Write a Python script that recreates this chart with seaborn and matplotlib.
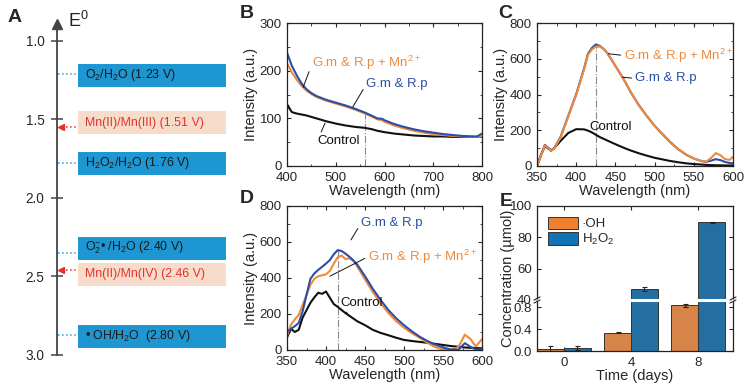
import numpy as np
import pandas as pd
import matplotlib
matplotlib.use("Agg")
import matplotlib.pyplot as plt
import seaborn as sns
from matplotlib.patches import Rectangle, Patch
from matplotlib.lines import Line2D
from matplotlib.ticker import AutoMinorLocator

# ======================================
# DATA
# ======================================
# A: redox potentials (V)
couples = ["O$_2$/H$_2$O", "Mn(II)/Mn(III)", "H$_2$O$_2$/H$_2$O",
           "O$_2^{-}$• /H$_2$O", "Mn(II)/Mn(IV)", "• OH/H$_2$O "]
potentials = [1.23, 1.51, 1.76, 2.40, 2.46, 2.80]
is_mn = [False, True, False, False, True, False]

# B: fluorescence 400-800 nm
b_wl = [400, 402, 405, 410, 420, 430, 440, 450, 460, 480, 500, 520, 540, 560, 575, 585, 595,
        600, 620, 640, 660, 680, 700, 720, 740, 760, 780, 790, 800]
b_gmrp = [238, 232, 224, 210, 190, 173, 161, 153, 147, 139, 133, 127, 120, 112, 105, 100, 99,
          96, 88, 82, 77, 73, 70, 67, 65, 63, 62, 62, 68]
b_mn = [215, 212, 206, 196, 181, 168, 158, 151, 145, 137, 131, 125, 118, 110, 103, 98, 96,
        93, 85, 79, 74, 70, 67, 65, 63, 62, 61, 61, 62]
b_ctrl = [120, 127, 121, 113, 110, 108, 106, 103, 100, 94, 89, 85, 82, 80, 77, 74, 72,
          71, 68, 66, 64, 63, 62, 62, 61, 61, 61, 61, 61]

# C: 350-600 nm
c_wl = [350, 355, 360, 365, 368, 372, 380, 390, 400, 410, 415, 420, 425, 430, 435, 440, 450,
        460, 470, 480, 490, 500, 510, 520, 530, 540, 550, 560, 566, 572, 578, 584, 590, 596, 600]
c_gmrp = [0, 60, 118, 100, 88, 100, 162, 282, 402, 545, 628, 660, 680, 672, 655, 630, 560,
          490, 410, 340, 280, 225, 178, 133, 94, 64, 42, 27, 23, 30, 38, 33, 22, 17, 15]
c_mn = [0, 58, 115, 98, 86, 98, 158, 278, 398, 540, 622, 652, 668, 668, 655, 630, 560,
        490, 410, 340, 280, 225, 180, 135, 95, 65, 42, 28, 24, 45, 72, 60, 38, 35, 52]
c_ctrl = [0, 60, 110, 96, 86, 100, 140, 185, 206, 205, 198, 188, 175, 162, 152, 142, 122,
          103, 86, 71, 58, 46, 37, 28, 21, 15, 11, 8, 6, 5, 4, 4, 3, 3, 3]

# D: 350-600 nm
d_wl = [350, 355, 360, 365, 370, 380, 385, 390, 395, 400, 405, 410, 415, 420, 425, 430, 435,
        440, 450, 460, 470, 480, 490, 500, 510, 520, 530, 540, 550, 560, 570, 578, 585, 592, 600]
d_gmrp = [100, 118, 132, 150, 215, 395, 425, 445, 462, 480, 500, 532, 555, 550, 535, 518, 498,
          475, 410, 340, 278, 222, 176, 138, 104, 74, 50, 30, 14, 3, 2, 38, 18, 2, 4]
d_mn = [80, 140, 170, 195, 250, 362, 395, 410, 415, 420, 440, 480, 515, 525, 505, 510, 495,
        465, 392, 322, 260, 205, 160, 124, 94, 68, 40, 16, 2, 0, 18, 85, 62, 20, 60]
d_ctrl = [70, 118, 100, 112, 180, 262, 292, 318, 312, 325, 290, 255, 240, 222, 205, 190, 175,
          160, 138, 112, 95, 82, 68, 56, 50, 45, 40, 34, 28, 22, 18, 14, 12, 11, 9]

# peak wavelengths marked with dash-dot lines
b_mark, c_mark, d_mark = 560, 425, 415

# E: ROS concentration (umol)
days = ["0", "4", "8"]
oh_conc = [0.04, 0.33, 0.83]
oh_err = [0.05, 0.01, 0.03]
h2o2_conc = [0.05, 47.0, 89.5]
h2o2_err = [0.04, 1.0, 0.6]

# ======================================
# STYLE
# ======================================
W, H = 752, 388
ORANGE = "#EE8A3C"
NAVY = "#2B4EA6"
BLACK = "#111111"
BAR_OR = "#EF8030"
BAR_BL = "#0F73B6"
BOX_BL = "#1E96D2"
BOX_PK = "#F8DCCB"
MN_RED = "#E4322B"

sns.set_theme(style="ticks")
plt.rcParams["font.family"] = ["Liberation Sans", "DejaVu Sans"]
plt.rcParams["mathtext.fontset"] = "custom"
plt.rcParams["mathtext.rm"] = "Liberation Sans"
plt.rcParams["mathtext.it"] = "Liberation Sans:italic"
plt.rcParams["mathtext.bf"] = "Liberation Sans:bold"
plt.rcParams["axes.linewidth"] = 0.9
plt.rcParams["axes.edgecolor"] = "#222222"


def rect(l, t, r, b):
    return [l / W, 1 - b / H, (r - l) / W, (b - t) / H]


def box_ticks(ax, minor=True):
    if minor:
        ax.xaxis.set_minor_locator(AutoMinorLocator(2))
        ax.yaxis.set_minor_locator(AutoMinorLocator(2))
    ax.tick_params(which="major", direction="in", length=3, width=0.8, labelsize=9.5,
                   top=True, right=True)
    ax.tick_params(which="minor", direction="in", length=1.8, width=0.6, top=True, right=True)
    ax.tick_params(axis="x", which="major", pad=4)
    ax.tick_params(axis="y", which="major", pad=3.8)


fig = plt.figure(figsize=(W / 100, H / 100), dpi=100)
fig.patch.set_facecolor("white")

# ======================================
# A. POTENTIAL LADDER
# ======================================
axA = fig.add_axes(rect(57, 22, 230, 355))
axA.set_xlim(0, 1)
axA.set_ylim(3.0, 0.88)
for s in ["top", "right", "bottom"]:
    axA.spines[s].set_visible(False)
axA.spines["left"].set_linewidth(1.3)
axA.spines["left"].set_color("#444444")
axA.set_xticks([])
axA.set_yticks([1.0, 1.5, 2.0, 2.5, 3.0])
axA.set_yticklabels(["1.0", "1.5", "2.0", "2.5", "3.0"])
axA.tick_params(axis="y", direction="inout", length=9, width=1.1, color="#444444",
                labelsize=9.8, pad=4.5)
axA.plot([0], [0.89], marker="^", ms=7, color="#444444", clip_on=False)
axA.text(0.065, 0.872, "E$^0$", fontsize=13, va="center", ha="left", color="#222222")

box_shift = [-0.01, 0.01, 0.02, -0.08, 0.025, 0.08]
link_shift = [-0.02, 0.04, 0.02, -0.05, 0.0, 0.07]
box_h = 0.146
for name, e, mn, bs, ls in zip(couples, potentials, is_mn, box_shift, link_shift):
    yc = e + bs
    axA.add_patch(Rectangle((0.121, yc - box_h / 2), 0.856, box_h,
                            facecolor=BOX_PK if mn else BOX_BL, edgecolor="none"))
    axA.text(0.162, yc, f"{name} ({e:.2f} V)", va="center", ha="left", fontsize=8.9,
             color=MN_RED if mn else "#1a1a1a")
    yl = e + ls
    if mn:
        axA.plot([0.03, 0.121], [yl, yl], ls=":", lw=1.1, color=MN_RED)
        axA.plot([0.025], [yl], marker="<", ms=4, color=MN_RED)
    else:
        axA.plot([0.006, 0.121], [yl, yl], ls=":", lw=1.1, color="#3A9BD0")

fig.text(15 / W, 1 - 17 / H, "A", fontsize=14, fontweight="bold", ha="center", va="center")


# ======================================
# B, C, D. SPECTRA
# ======================================
def spectra_frame(wl, gmrp, mn, ctrl):
    parts = [pd.DataFrame({"wl": wl, "val": v, "sample": k})
             for k, v in [("Control", ctrl), ("G.m & R.p", gmrp), ("G.m & R.p + Mn", mn)]]
    return pd.concat(parts, ignore_index=True)


pal = {"Control": BLACK, "G.m & R.p": NAVY, "G.m & R.p + Mn": ORANGE}


def draw_spectra(ax, df, order, xlim, ylim, xticks, yticks, mark, mark_src):
    sns.lineplot(data=df, x="wl", y="val", hue="sample", hue_order=order, palette=pal,
                 ax=ax, legend=False, linewidth=1.5, estimator=None, sort=True)
    top = np.interp(mark, df.loc[df["sample"] == mark_src, "wl"],
                    df.loc[df["sample"] == mark_src, "val"])
    ax.plot([mark, mark], [0, top], ls="-.", lw=0.8, color="#8a8a8a", zorder=0)
    ax.set_xlim(*xlim)
    ax.set_ylim(*ylim)
    ax.set_xticks(xticks)
    ax.set_yticks(yticks)
    box_ticks(ax)
    ax.set_xlabel("Wavelength (nm)", fontsize=10.5, labelpad=0)
    ax.set_ylabel("Intensity (a.u.)", fontsize=10.5, labelpad=1)


def note(ax, text, color, xy, xytext):
    ax.annotate(text, xy=xy, xytext=xytext, fontsize=9.5, color=color,
                ha="left", va="center",
                arrowprops=dict(arrowstyle="-", color="#111111", lw=0.7,
                                shrinkA=0, shrinkB=0, relpos=(0, 0.5)))


MN_LABEL = "G.m & R.p + Mn$^{2+}$"

axB = fig.add_axes(rect(287, 23, 482, 166))
draw_spectra(axB, spectra_frame(b_wl, b_gmrp, b_mn, b_ctrl),
             ["Control", "G.m & R.p + Mn", "G.m & R.p"],
             (400, 800), (0, 300), [400, 500, 600, 700, 800], [0, 100, 200, 300],
             b_mark, "G.m & R.p")
note(axB, MN_LABEL, ORANGE, (433, 165), (452, 216))
note(axB, "G.m & R.p", NAVY, (535, 124), (563, 172))
note(axB, "Control", BLACK, (478, 90), (462, 52))

axC = fig.add_axes(rect(537, 23, 733, 166))
draw_spectra(axC, spectra_frame(c_wl, c_gmrp, c_mn, c_ctrl),
             ["Control", "G.m & R.p", "G.m & R.p + Mn"],
             (350, 600), (0, 800), [350, 400, 450, 500, 550, 600], [0, 200, 400, 600, 800],
             c_mark, "G.m & R.p")
note(axC, MN_LABEL, ORANGE, (441, 628), (461, 618))
note(axC, "G.m & R.p", NAVY, (459, 497), (475, 490))
note(axC, "Control", BLACK, (430, 165), (417, 218))

axD = fig.add_axes(rect(287, 206, 482, 350))
draw_spectra(axD, spectra_frame(d_wl, d_gmrp, d_mn, d_ctrl),
             ["Control", "G.m & R.p + Mn", "G.m & R.p"],
             (350, 600), (0, 800), [350, 400, 450, 500, 550, 600], [0, 200, 400, 600, 800],
             d_mark, "G.m & R.p")
note(axD, "G.m & R.p", NAVY, (432, 612), (445, 705))
note(axD, MN_LABEL, ORANGE, (405, 410), (454, 518))
note(axD, "Control", BLACK, (429, 190), (419, 262))

for lbl, x, y in [("B", 247, 13), ("C", 505, 13), ("D", 247, 199), ("E", 506, 201)]:
    fig.text(x / W, 1 - y / H, lbl, fontsize=14, fontweight="bold", ha="center", va="center")

# ======================================
# E. BROKEN-AXIS BARS
# ======================================
bars = pd.concat([
    pd.DataFrame({"day": days, "conc": oh_conc, "err": oh_err, "species": "OH"}),
    pd.DataFrame({"day": days, "conc": h2o2_conc, "err": h2o2_err, "species": "H2O2"}),
], ignore_index=True)

axU = fig.add_axes(rect(537, 206, 733, 300))
axL = fig.add_axes(rect(537, 300, 733, 351))
for ax in (axU, axL):
    sns.barplot(data=bars, x="day", y="conc", hue="species", hue_order=["OH", "H2O2"],
                palette=[BAR_OR, BAR_BL], ax=ax, legend=False, width=0.8,
                edgecolor="#333333", linewidth=0.7, errorbar=None)
    for k, sp in enumerate(["OH", "H2O2"]):
        sub = bars[bars["species"] == sp]
        xs = np.arange(len(days)) + (k - 0.5) * 0.4
        ax.errorbar(xs, sub["conc"], yerr=sub["err"], fmt="none", ecolor="#222222",
                    elinewidth=0.8, capsize=1.8, capthick=0.8)
    ax.set_xlim(-0.4, 2.52)
    box_ticks(ax, minor=False)
    ax.set_ylabel("")

axU.set_ylim(40, 100)
axU.set_yticks([40, 60, 80, 100])
axU.spines["bottom"].set_visible(False)
axU.tick_params(axis="x", bottom=False, labelbottom=False)
axU.set_xlabel("")

axL.set_ylim(0, 0.93)
axL.set_yticks([0.0, 0.4, 0.8])
axL.set_yticklabels(["0.0", "0.4", "0.8"])
axL.spines["top"].set_visible(False)
axL.tick_params(axis="x", top=False)
axL.set_xlabel("Time (days)", fontsize=10.5, labelpad=0)

axU.legend(handles=[Patch(facecolor=BAR_OR, edgecolor="#333333", lw=0.7, label="·OH"),
                    Patch(facecolor=BAR_BL, edgecolor="#333333", lw=0.7, label="H$_2$O$_2$")],
           loc="upper left", frameon=False, fontsize=9.5, handlelength=2.3, handleheight=1.1,
           labelspacing=0.1, handletextpad=0.3, borderaxespad=0.4)

yb = 1 - 300 / H
fig.add_artist(Line2D([538 / W, 732 / W], [yb, yb], color="white", lw=2.2))
for xb in (537, 733):
    for dy in (-1.5, 1.5):
        fig.add_artist(Line2D([(xb - 3) / W, (xb + 3) / W],
                              [yb + (dy - 1.5) / H, yb + (dy + 1.5) / H],
                              color="#222222", lw=0.8))

fig.text(508 / W, 1 - 278 / H, "Concentration (µmol)", rotation=90, fontsize=10.5,
         ha="center", va="center")

fig.savefig("out.png", dpi=100)
